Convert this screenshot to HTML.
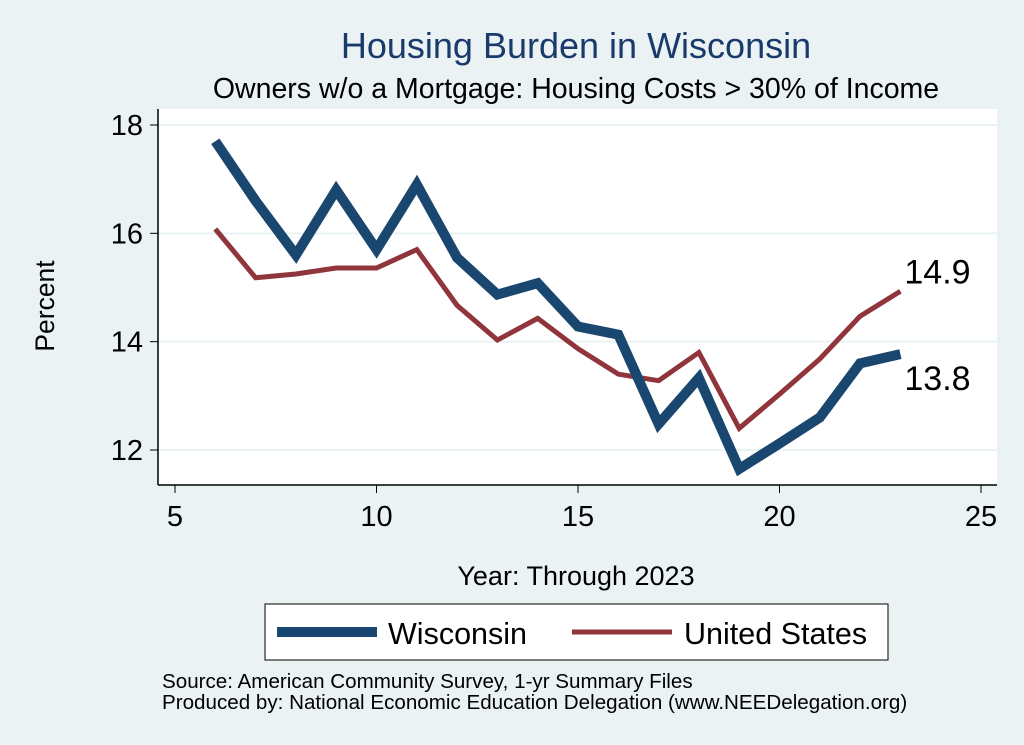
<!DOCTYPE html>
<html><head><meta charset="utf-8"><style>
body{margin:0;background:#eaf2f3;}
svg{display:block;font-family:"Liberation Sans",sans-serif;}
</style></head><body>
<svg id="chart" width="1024" height="745">
<rect width="1024" height="745" fill="#eaf2f3"/>
<text x="576" y="58" font-size="36" fill="#1a3a6b" text-anchor="middle">Housing Burden in Wisconsin</text>
<text x="576" y="98" font-size="28.5" fill="#000" text-anchor="middle">Owners w/o a Mortgage: Housing Costs &gt; 30% of Income</text>
<rect x="158" y="109" width="839" height="376" fill="#fff"/>
<g id="grid"></g>
<g id="axes"></g>
<g id="series"></g>
<text x="54" y="306" font-size="26.5" text-anchor="middle" transform="rotate(-90 54 306)">Percent</text>
<text x="576" y="585" font-size="27" text-anchor="middle">Year: Through 2023</text>
<g>
<rect x="265" y="604" width="623" height="56" fill="#fff" stroke="#000" stroke-width="1"/>
<line x1="277" y1="632" x2="377" y2="632" stroke="#1a476f" stroke-width="10"/>
<text x="388" y="644" font-size="30.5">Wisconsin</text>
<line x1="572" y1="632" x2="672" y2="632" stroke="#90353b" stroke-width="5"/>
<text x="684" y="644" font-size="30.5">United States</text>
</g>
<text x="162" y="688" font-size="20.6">Source: American Community Survey, 1-yr Summary Files</text>
<text x="162" y="709" font-size="20.6">Produced by: National Economic Education Delegation (www.NEEDelegation.org)</text>
</svg>
<script>
const years=[6,7,8,9,10,11,12,13,14,15,16,17,18,19,20,21,22,23];
const wisconsin=[17.7,16.6,15.6,16.8,15.7,16.9,15.55,14.87,15.08,14.28,14.13,12.48,13.33,11.65,12.12,12.6,13.6,13.77];
const unitedStates=[16.08,15.18,15.25,15.36,15.36,15.7,14.67,14.03,14.43,13.87,13.4,13.28,13.8,12.4,13.03,13.68,14.47,14.93];
const xTicks=[5,10,15,20,25];
const yTicks=[12,14,16,18];
const NS="http://www.w3.org/2000/svg";
const X=v=>175+(v-5)*(981-175)/20;
const Y=v=>450-(v-12)*(450-125)/6;
function mk(tag,attrs,parent){const e=document.createElementNS(NS,tag);for(const k in attrs)e.setAttribute(k,attrs[k]);parent.appendChild(e);return e;}
const grid=document.getElementById('grid'),axes=document.getElementById('axes'),ser=document.getElementById('series');
yTicks.forEach(t=>{
 const g=mk('line',{x1:158,x2:997,y1:Y(t),y2:Y(t),stroke:'#eaf2f3','stroke-width':2},grid);
 
 
 mk('line',{x1:150,x2:158,y1:Y(t),y2:Y(t),stroke:'#000'},axes);
 const tx=mk('text',{x:143,y:Y(t)+10,'font-size':29,'text-anchor':'end'},axes);
 tx.textContent=t;
 
 
});
xTicks.forEach(t=>{
 mk('line',{x1:X(t),x2:X(t),y1:485,y2:493,stroke:'#000'},axes);
 const tx=mk('text',{x:X(t),y:526,'font-size':29,'text-anchor':'middle'},axes);
 tx.textContent=t;
 
 
});
mk('line',{x1:158,x2:158,y1:109,y2:485,stroke:'#000','stroke-width':1.5},axes);
mk('line',{x1:158,x2:997,y1:485,y2:485,stroke:'#000','stroke-width':1.5},axes);
function line(vals,color,w,name){
 const p=mk('polyline',{points:years.map((y,i)=>X(y)+','+Y(vals[i])).join(' '),fill:'none',stroke:color,'stroke-width':w,'stroke-linejoin':'miter'},ser);
 
 
}
line(unitedStates,'#90353b',5,'us-line');
line(wisconsin,'#1a476f',10,'wisconsin-line');
const n=years.length-1;
const l1=mk('text',{x:X(years[n])+4,y:Y(unitedStates[n])-8,'font-size':34},ser);
l1.textContent=unitedStates[n].toFixed(1);


const l2=mk('text',{x:X(years[n])+4,y:Y(wisconsin[n])+36,'font-size':34},ser);
l2.textContent=wisconsin[n].toFixed(1);


</script>
</body></html>
